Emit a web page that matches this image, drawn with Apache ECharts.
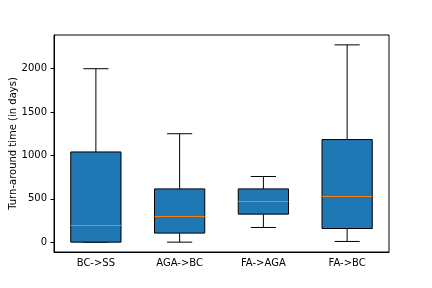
<!DOCTYPE html>
<html>
<head>
<meta charset="utf-8">
<script src="https://cdn.jsdelivr.net/npm/echarts@6/dist/echarts.min.js"></script>
<style>html,body{margin:0;padding:0;background:#fff;}#c{width:432px;height:288px;}</style>
</head>
<body>
<div id="c"></div>
<script>
const categories = ['BC->SS', 'AGA->BC', 'FA->AGA', 'FA->BC'];
const whiskerLow = [0, 0, 169, 8];
const q1 = [0, 104, 323, 157];
const median = [192, 296, 469, 526];
const q3 = [1040, 614, 614, 1183];
const whiskerHigh = [2000, 1250, 757, 2275];
const yTicks = [0, 500, 1000, 1500, 2000];
const yLabel = 'Turn-around time (in days)';

const lo = Math.min(...whiskerLow), hi = Math.max(...whiskerHigh);
const pad = (hi - lo) * 0.05;

const data = categories.map((c, i) => [i, whiskerLow[i], q1[i], median[i], q3[i], whiskerHigh[i]]);

const chart = echarts.init(document.getElementById('c'), null, {renderer: 'canvas'});
const font = 'DejaVu Sans';
chart.setOption({
  animation: false,
  grid: {left: 54, right: 43, top: 35, bottom: 36, show: true, borderColor: '#000', borderWidth: 1,
         backgroundColor: 'transparent', containLabel: false, outerBoundsMode: 'none'},
  xAxis: {
    type: 'category', data: categories, boundaryGap: true,
    axisLine: {onZero: false, lineStyle: {color: '#000', width: 1}},
    axisTick: {alignWithLabel: true, length: 3.5, lineStyle: {color: '#000'}},
    axisLabel: {color: '#000', fontSize: 10, fontFamily: font, margin: 6},
    splitLine: {show: false}
  },
  yAxis: {
    type: 'value', min: lo - pad, max: hi + pad,
    name: yLabel, nameLocation: 'middle', nameGap: 36, nameMoveOverlap: false,
    nameTextStyle: {color: '#000', fontSize: 10, fontFamily: font},
    axisLine: {show: true, onZero: false, lineStyle: {color: '#000', width: 1}},
    axisTick: {show: true, length: 3.5, lineStyle: {color: '#000'}, customValues: yTicks},
    axisLabel: {color: '#000', fontSize: 10, fontFamily: font, margin: 7, customValues: yTicks,
                formatter: function (v) { return String(Math.round(v)); }},
    splitLine: {show: false}
  },
  series: [{
    type: 'custom',
    data: data,
    encode: {x: 0, y: [1, 2, 3, 4, 5]},
    renderItem: function (params, api) {
      const x = api.value(0);
      const pMin = api.coord([x, api.value(1)]);
      const pQ1 = api.coord([x, api.value(2)]);
      const pMed = api.coord([x, api.value(3)]);
      const pQ3 = api.coord([x, api.value(4)]);
      const pMax = api.coord([x, api.value(5)]);
      const bw = api.size([1, 0])[0] * 0.6;
      const cw = bw / 2;
      const cx = pMed[0];
      const ls = {stroke: '#000', lineWidth: 1};
      return {
        type: 'group',
        children: [
          {type: 'line', shape: {x1: cx, y1: pQ3[1], x2: cx, y2: pMax[1]}, style: ls},
          {type: 'line', shape: {x1: cx, y1: pQ1[1], x2: cx, y2: pMin[1]}, style: ls},
          {type: 'line', shape: {x1: cx - cw / 2, y1: pMax[1], x2: cx + cw / 2, y2: pMax[1]}, style: ls},
          {type: 'line', shape: {x1: cx - cw / 2, y1: pMin[1], x2: cx + cw / 2, y2: pMin[1]}, style: ls},
          {type: 'rect', shape: {x: cx - bw / 2, y: pQ3[1], width: bw, height: pQ1[1] - pQ3[1]}, style: {fill: '#1f77b4', stroke: '#000', lineWidth: 1}},
          {type: 'line', shape: {x1: cx - bw / 2, y1: pMed[1], x2: cx + bw / 2, y2: pMed[1]}, style: {stroke: '#ff7f0e', lineWidth: 1}}
        ]
      };
    }
  }]
});
</script>
</body>
</html>
